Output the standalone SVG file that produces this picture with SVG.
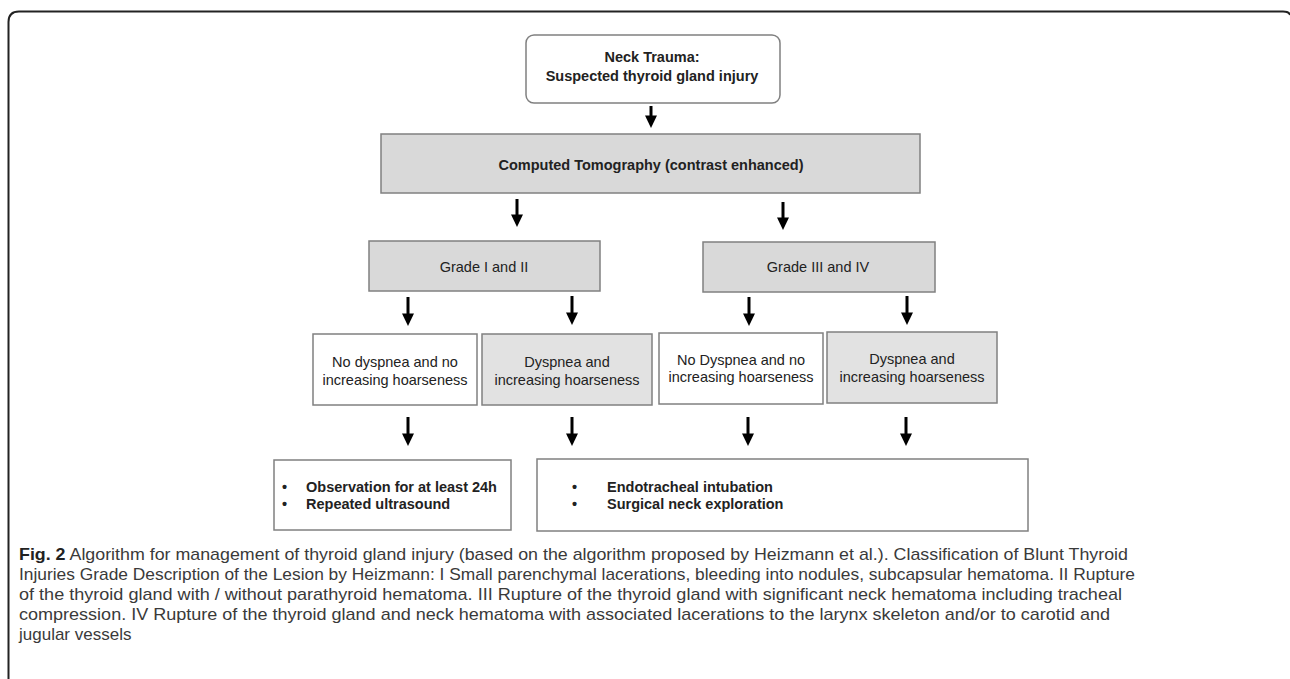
<svg xmlns="http://www.w3.org/2000/svg" width="1290" height="679" viewBox="0 0 1290 679">
<defs>
<style>
.box{stroke:#808080;stroke-width:1.5}
.w{fill:#ffffff}
.g{fill:#d9d9d9}
.lg{fill:#e2e2e2}
.t{font-family:"Liberation Sans",Arial,sans-serif;font-size:14.5px;fill:#222;text-anchor:middle}
.b{font-weight:bold}
.l{text-anchor:start}
.arr{stroke:#000;stroke-width:3;fill:none}
.cap{font-family:"Liberation Sans",Arial,sans-serif;font-size:17px;fill:#3a3a3a}
</style>
<marker id="ah" markerWidth="5" markerHeight="4" refX="0.2" refY="2" orient="auto" markerUnits="strokeWidth">
<path d="M0,0 L4.2,2 L0,4 Z" fill="#000"/>
</marker>
</defs>
<rect width="1290" height="679" fill="#fff"/>
<path d="M8.5,679 L8.5,22 Q8.5,11.5 19,11.5 L1283,11.5 Q1289,11.5 1290,15" fill="none" stroke="#222" stroke-width="2"/>

<g id="connectors">
<line class="arr" x1="651" y1="106" x2="651" y2="116" marker-end="url(#ah)"/>
<line class="arr" x1="517" y1="199" x2="517" y2="215" marker-end="url(#ah)"/>
<line class="arr" x1="783" y1="202" x2="783" y2="218" marker-end="url(#ah)"/>
<line class="arr" x1="408" y1="297" x2="408" y2="314" marker-end="url(#ah)"/>
<line class="arr" x1="572" y1="296" x2="572" y2="313" marker-end="url(#ah)"/>
<line class="arr" x1="749" y1="297" x2="749" y2="314" marker-end="url(#ah)"/>
<line class="arr" x1="907" y1="296" x2="907" y2="313" marker-end="url(#ah)"/>
<line class="arr" x1="408" y1="417" x2="408" y2="434" marker-end="url(#ah)"/>
<line class="arr" x1="572" y1="417" x2="572" y2="434" marker-end="url(#ah)"/>
<line class="arr" x1="748" y1="417" x2="748" y2="434" marker-end="url(#ah)"/>
<line class="arr" x1="906" y1="417" x2="906" y2="434" marker-end="url(#ah)"/>
</g>

<g id="neck">
<rect class="box w" x="526" y="35" width="254" height="68" rx="8"/>
<text class="t b" x="652" y="62">Neck Trauma:</text>
<text class="t b" x="652" y="81">Suspected thyroid gland injury</text>
</g>
<g id="ct">
<rect class="box g" x="381" y="134" width="539" height="59"/>
<text class="t b" x="651" y="170">Computed Tomography (contrast enhanced)</text>
</g>
<g id="grade12">
<rect class="box g" x="369" y="241" width="231" height="50"/>
<text class="t" x="484" y="272">Grade I and II</text>
</g>
<g id="grade34">
<rect class="box g" x="703" y="242" width="232" height="50"/>
<text class="t" x="818" y="272">Grade III and IV</text>
</g>
<g id="nodys1">
<rect class="box w" x="313" y="334" width="164" height="71"/>
<text class="t" x="395" y="367">No dyspnea and no</text>
<text class="t" x="395" y="385">increasing hoarseness</text>
</g>
<g id="dys1">
<rect class="box lg" x="482" y="334" width="170" height="71"/>
<text class="t" x="567" y="367">Dyspnea and</text>
<text class="t" x="567" y="385">increasing hoarseness</text>
</g>
<g id="nodys2">
<rect class="box w" x="659" y="333" width="164" height="71"/>
<text class="t" x="741" y="365">No Dyspnea and  no</text>
<text class="t" x="741" y="382">increasing hoarseness</text>
</g>
<g id="dys2">
<rect class="box lg" x="827" y="332" width="170" height="71"/>
<text class="t" x="912" y="364">Dyspnea and</text>
<text class="t" x="912" y="382">increasing hoarseness</text>
</g>
<g id="obs">
<rect class="box w" x="274" y="460" width="237" height="70"/>
<text class="t b l" x="282" y="492">•</text>
<text class="t b l" x="306" y="492">Observation for at least 24h</text>
<text class="t b l" x="282" y="509">•</text>
<text class="t b l" x="306" y="509">Repeated ultrasound</text>
</g>
<g id="endo">
<rect class="box w" x="537" y="459" width="491" height="72"/>
<text class="t b l" x="572" y="492">•</text>
<text class="t b l" x="607" y="492">Endotracheal intubation</text>
<text class="t b l" x="572" y="509">•</text>
<text class="t b l" x="607" y="509">Surgical neck exploration</text>
</g>

<g id="caption">
<text class="cap" x="19" y="560" textLength="1109" lengthAdjust="spacingAndGlyphs"><tspan font-weight="bold" fill="#222">Fig. 2</tspan> Algorithm for management of thyroid gland injury (based on the algorithm proposed by Heizmann et al.). Classification of Blunt Thyroid</text>
<text class="cap" x="19" y="580" textLength="1116" lengthAdjust="spacingAndGlyphs">Injuries Grade Description of the Lesion by Heizmann: I Small parenchymal lacerations, bleeding into nodules, subcapsular hematoma. II Rupture</text>
<text class="cap" x="19" y="600" textLength="1103" lengthAdjust="spacingAndGlyphs">of the thyroid gland with / without parathyroid hematoma. III Rupture of the thyroid gland with significant neck hematoma including tracheal</text>
<text class="cap" x="19" y="620" textLength="1091" lengthAdjust="spacingAndGlyphs">compression. IV Rupture of the thyroid gland and neck hematoma with associated lacerations to the larynx skeleton and/or to carotid and</text>
<text class="cap" x="19" y="640">jugular vessels</text>
</g>
</svg>
